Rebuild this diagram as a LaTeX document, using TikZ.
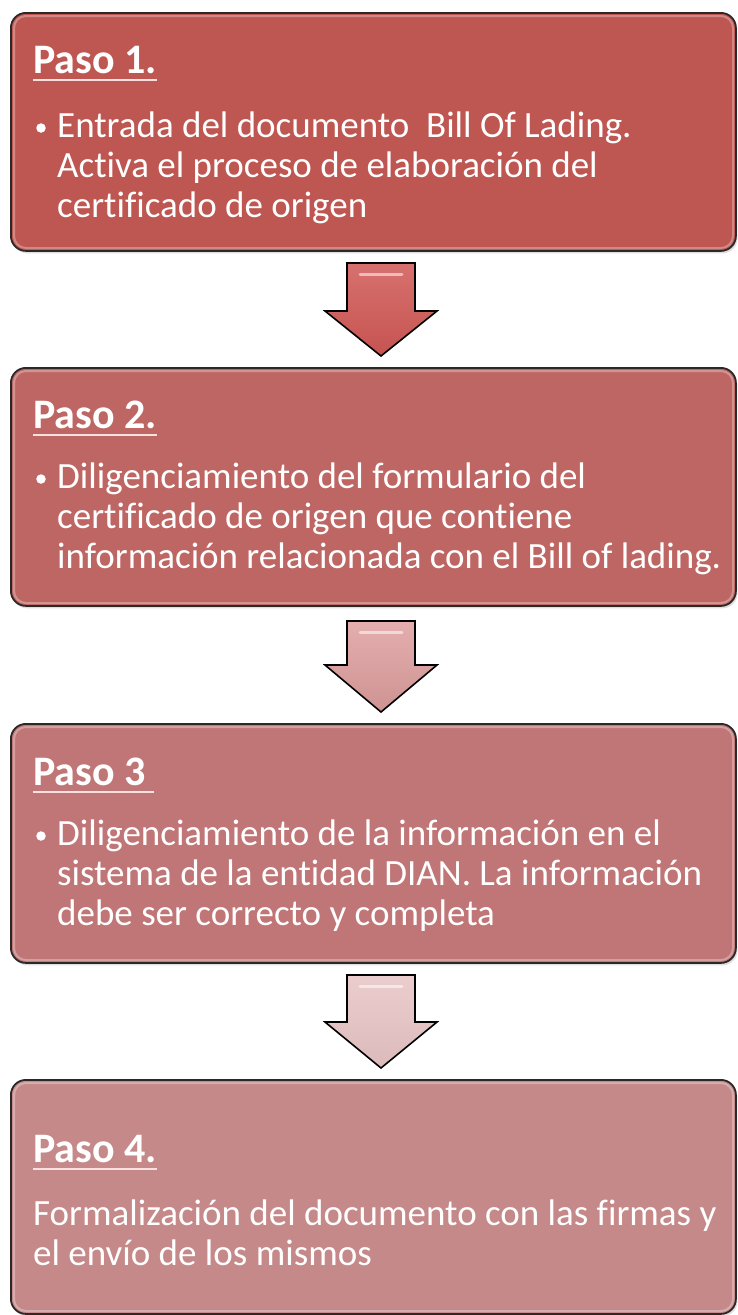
\documentclass[tikz,border=0pt]{standalone}
\usepackage{fontspec}
\setmainfont{Carlito}[Ligatures={NoCommon}]
\usetikzlibrary{shadows}
\definecolor{cA}{RGB}{190,87,82}
\definecolor{cB}{RGB}{190,102,99}
\definecolor{cC}{RGB}{192,118,118}
\definecolor{cD}{RGB}{197,137,137}
\definecolor{aA}{RGB}{208,88,85}
\definecolor{aB}{RGB}{224,160,160}
\definecolor{aC}{RGB}{232,196,197}
\definecolor{edge}{RGB}{45,40,40}
\tikzset{
  stepbox/.style={draw=edge, line width=1.8pt, rounded corners=15pt, anchor=north west,
    minimum width=725pt, inner sep=0pt,
    drop shadow={shadow xshift=1.5pt, shadow yshift=-2.5pt, opacity=0.25}},
  inner/.style={draw=white, draw opacity=0.3, line width=2pt, rounded corners=12pt, anchor=north west, inner sep=0pt},
  head/.style={text=white, font=\bfseries\fontsize{42}{46}\selectfont, inner sep=0pt, anchor=base west},
  body/.style={text=white, font=\fontsize{37}{40}\selectfont, inner sep=0pt, anchor=base west},
  uline/.style={draw=white!88!red, line width=2.2pt},
  bul/.style={circle, fill=white, inner sep=0pt, minimum size=9.5pt},
  blockarrow/.style={draw=black, line width=1.6pt, line join=miter},
  shine/.style={draw=white, draw opacity=0.55, line width=3pt, line cap=round}
}
\begin{document}
\begin{tikzpicture}[x=1pt,y=-1pt]
\useasboundingbox[fill=white] (0,0) rectangle (737,1315);

% boxes
\node[stepbox, fill=cA, minimum height=238pt] (b1) at (10,12) {};
\node[stepbox, fill=cB, minimum height=238pt] (b2) at (10,367) {};
\node[stepbox, fill=cC, minimum height=239pt] (b3) at (10,723) {};
\node[stepbox, fill=cD, minimum height=234pt] (b4) at (10,1079) {};
\node[inner, minimum width=719pt, minimum height=232pt] (i1) at (13,15) {};
\node[inner, minimum width=719pt, minimum height=232pt] (i2) at (13,370) {};
\node[inner, minimum width=719pt, minimum height=233pt] (i3) at (13,726) {};
\node[inner, minimum width=719pt, minimum height=228pt] (i4) at (13,1082) {};

% arrows
\filldraw[blockarrow, top color=aA!85!white, bottom color=aA!95!black]
  (347,263) coordinate (a1t) -- (415,263) -- (415,311) -- (437,311) -- (381,356) coordinate (a1p) -- (325,311) -- (347,311) -- cycle;
\draw[shine] (360,274) -- (402,274);
\filldraw[blockarrow, top color=aB!85!white, bottom color=aB!92!black]
  (347,621) coordinate (a2t) -- (415,621) -- (415,665) -- (437,665) -- (381,712) coordinate (a2p) -- (325,665) -- (347,665) -- cycle;
\draw[shine] (360,632) -- (402,632);
\filldraw[blockarrow, top color=aC!85!white, bottom color=aC!95!black]
  (347,975) coordinate (a3t) -- (415,975) -- (415,1022) -- (437,1022) -- (381,1068) coordinate (a3p) -- (325,1022) -- (347,1022) -- cycle;
\draw[shine] (360,986) -- (402,986);

% box 1
\node[head] (h1) at (33,73) {Paso 1.};
\draw[uline] ([yshift=-7pt]h1.base west) -- ([yshift=-7pt]h1.base east);
\node[bul] (p1) at (41,128) {};
\node[body] (t1a) at (57,137) {Entrada del documento\ \ Bill Of Lading.};
\node[body] (t1b) at (57,177) {Activa el proceso de elaboración del};
\node[body] (t1c) at (57,217) {certificado de origen};

% box 2
\node[head] (h2) at (33,428) {Paso 2.};
\draw[uline] ([yshift=-7pt]h2.base west) -- ([yshift=-7pt]h2.base east);
\node[bul] (p2) at (41,479) {};
\node[body] (t2a) at (57,488) {Diligenciamiento del formulario del};
\node[body] (t2b) at (57,528) {certificado de origen que contiene};
\node[body] (t2c) at (57,568) {información relacionada con el Bill of lading.};

% box 3
\node[head] (h3) at (33,785) {Paso 3};
\draw[uline] ([yshift=-7pt]h3.base west) -- ([yshift=-7pt,xshift=8pt]h3.base east);
\node[bul] (p3) at (41,836) {};
\node[body] (t3a) at (57,845) {Diligenciamiento de la información en el};
\node[body] (t3b) at (57,885) {sistema de la entidad DIAN. La información};
\node[body] (t3c) at (57,925) {debe ser correcto y completa};

% box 4
\node[head] (h4) at (33,1162) {Paso 4.};
\draw[uline] ([yshift=-7pt]h4.base west) -- ([yshift=-7pt]h4.base east);
\node[body] (t4a) at (33,1225) {Formalización del documento con las firmas y};
\node[body] (t4b) at (33,1265) {el envío de los mismos};
\end{tikzpicture}
\end{document}
